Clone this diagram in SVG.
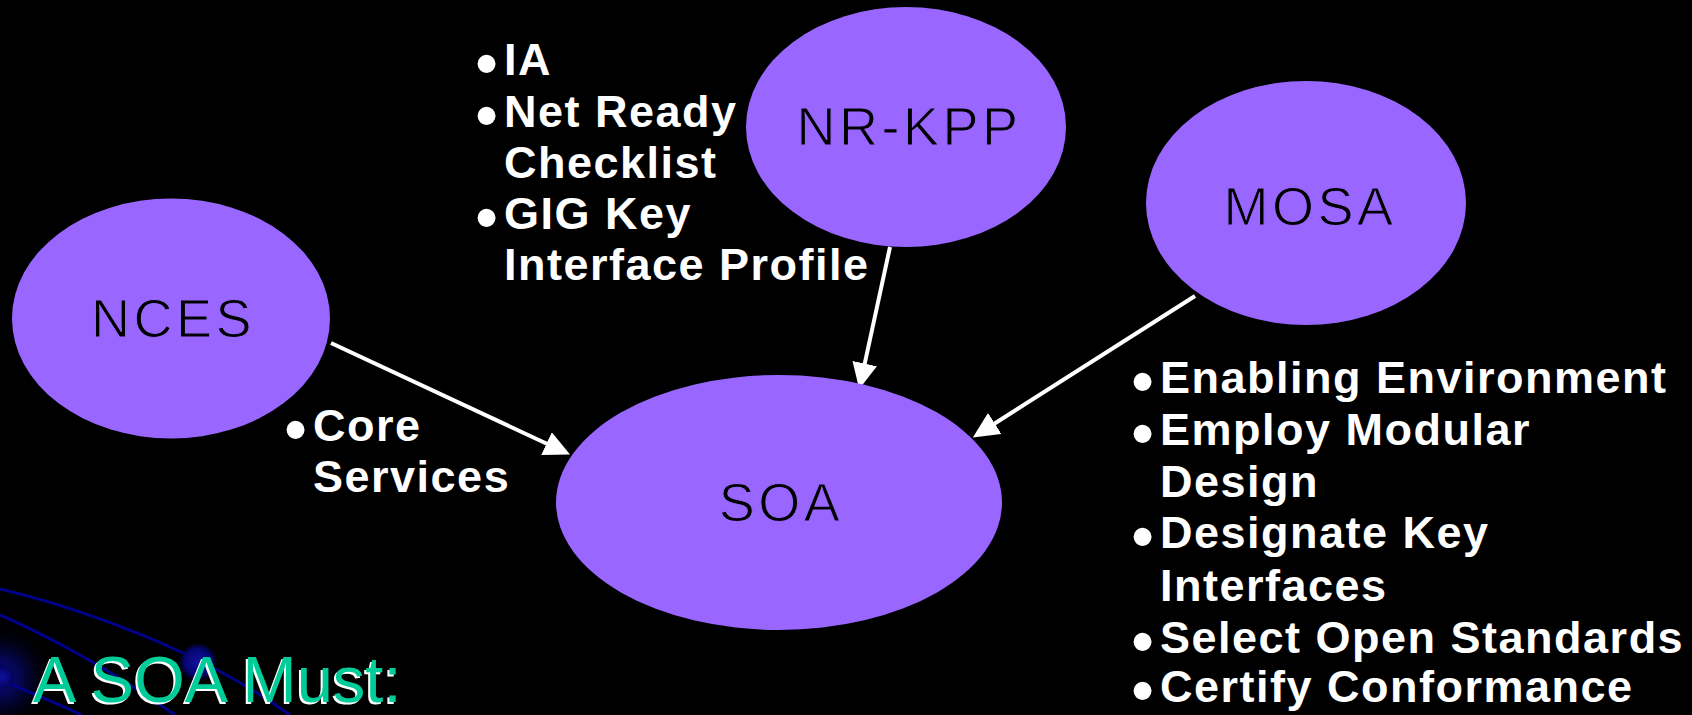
<svg xmlns="http://www.w3.org/2000/svg" width="1692" height="715" viewBox="0 0 1692 715">
  <defs>
    <style>
      .node { fill: #9966FF; }
      .nlabel { font-family: "Liberation Sans", Arial, sans-serif; font-size: 54px; letter-spacing: 3.5px; fill: #000000; stroke: #9966FF; stroke-width: 1.1px; text-anchor: middle; }
      .item { font-family: "Liberation Sans", Arial, sans-serif; font-weight: bold; font-size: 45px; letter-spacing: 1.5px; fill: #FFFFFF; }
      .b { font-weight: normal; font-size: 66px; letter-spacing: 0; }
      .conn { stroke: #FFFFFF; stroke-width: 4; fill: none; }
      .swirl { stroke: #000088; stroke-width: 3; fill: none; }
      .title { font-family: "Liberation Sans", Arial, sans-serif; font-size: 65px; }
    </style>
    <marker id="arrow" markerUnits="userSpaceOnUse" viewBox="0 0 26 25" refX="1" refY="12.5" markerWidth="26" markerHeight="25" orient="auto">
      <path d="M0,0 L26,12.5 L0,25 Z" fill="#FFFFFF"/>
    </marker>
    <radialGradient id="glow" cx="0.5" cy="0.5" r="0.5">
      <stop offset="0" stop-color="#1010A0"/>
      <stop offset="0.7" stop-color="#05056E"/>
      <stop offset="1" stop-color="#000030" stop-opacity="0"/>
    </radialGradient>
    <radialGradient id="cornerglow" cx="0.5" cy="0.5" r="0.5">
      <stop offset="0" stop-color="#0A0A90"/>
      <stop offset="0.4" stop-color="#06065A" stop-opacity="0.8"/>
      <stop offset="1" stop-color="#000000" stop-opacity="0"/>
    </radialGradient>
  </defs>

  <rect x="0" y="0" width="1692" height="715" fill="#000000"/>

  <g id="background-swirl">
    <circle cx="0" cy="677" r="55" fill="url(#cornerglow)"/>
    <path class="swirl" d="M0,589 C60,603 130,628 183,653 C220,670 255,690 290,715"/>
    <path class="swirl" d="M0,615 C40,632 95,662 133,687 C150,698 162,706 175,715"/>
    <path class="swirl" d="M0,680 C25,690 55,703 82,715"/>
    <circle cx="198" cy="662" r="20" fill="url(#glow)"/>
    <circle cx="2" cy="677" r="13" fill="url(#glow)"/>
  </g>

  <g id="connectors">
    <line class="conn" x1="331" y1="343" x2="547.4" y2="444" marker-end="url(#arrow)"/>
    <line class="conn" x1="890" y1="247" x2="864.5" y2="364.6" marker-end="url(#arrow)"/>
    <line class="conn" x1="1195" y1="296" x2="993.9" y2="424" marker-end="url(#arrow)"/>
  </g>

  <g id="node-nces">
    <ellipse class="node" cx="171" cy="318.5" rx="159" ry="120"/>
    <text class="nlabel" x="173" y="337">NCES</text>
  </g>

  <g id="node-nrkpp">
    <ellipse class="node" cx="906" cy="127" rx="160" ry="120"/>
    <text class="nlabel" x="909" y="145">NR-KPP</text>
  </g>

  <g id="node-mosa">
    <ellipse class="node" cx="1306" cy="203" rx="160" ry="122"/>
    <text class="nlabel" x="1310" y="225">MOSA</text>
  </g>

  <g id="node-soa">
    <ellipse class="node" cx="779" cy="502.5" rx="223" ry="127.5"/>
    <text class="nlabel" x="781" y="521">SOA</text>
  </g>

  <g id="list-nrkpp">
    <text class="item"><tspan class="b" x="475" y="86">•</tspan><tspan x="504" y="75">IA</tspan><tspan class="b" x="475" y="138">•</tspan><tspan x="504" y="127">Net Ready</tspan><tspan x="504" y="178">Checklist</tspan><tspan class="b" x="475" y="240">•</tspan><tspan x="504" y="229">GIG Key</tspan><tspan x="504" y="280">Interface Profile</tspan></text>
  </g>

  <g id="list-nces">
    <text class="item"><tspan class="b" x="284" y="452">•</tspan><tspan x="313" y="441">Core</tspan><tspan x="313" y="492">Services</tspan></text>
  </g>

  <g id="list-mosa">
    <text class="item"><tspan class="b" x="1131" y="404">•</tspan><tspan x="1160" y="393">Enabling Environment</tspan><tspan class="b" x="1131" y="456">•</tspan><tspan x="1160" y="445">Employ Modular</tspan><tspan x="1160" y="497">Design</tspan><tspan class="b" x="1131" y="559">•</tspan><tspan x="1160" y="548">Designate Key</tspan><tspan x="1160" y="601">Interfaces</tspan><tspan class="b" x="1131" y="664">•</tspan><tspan x="1160" y="653">Select Open Standards</tspan><tspan class="b" x="1131" y="713">•</tspan><tspan x="1160" y="702">Certify Conformance</tspan></text>
  </g>

  <g id="title">
    <text class="title" x="31" y="703.5" fill="#FFFFFF">A SOA Must:</text>
    <text class="title" x="33" y="701.5" fill="#00CC99">A SOA Must:</text>
  </g>
</svg>
